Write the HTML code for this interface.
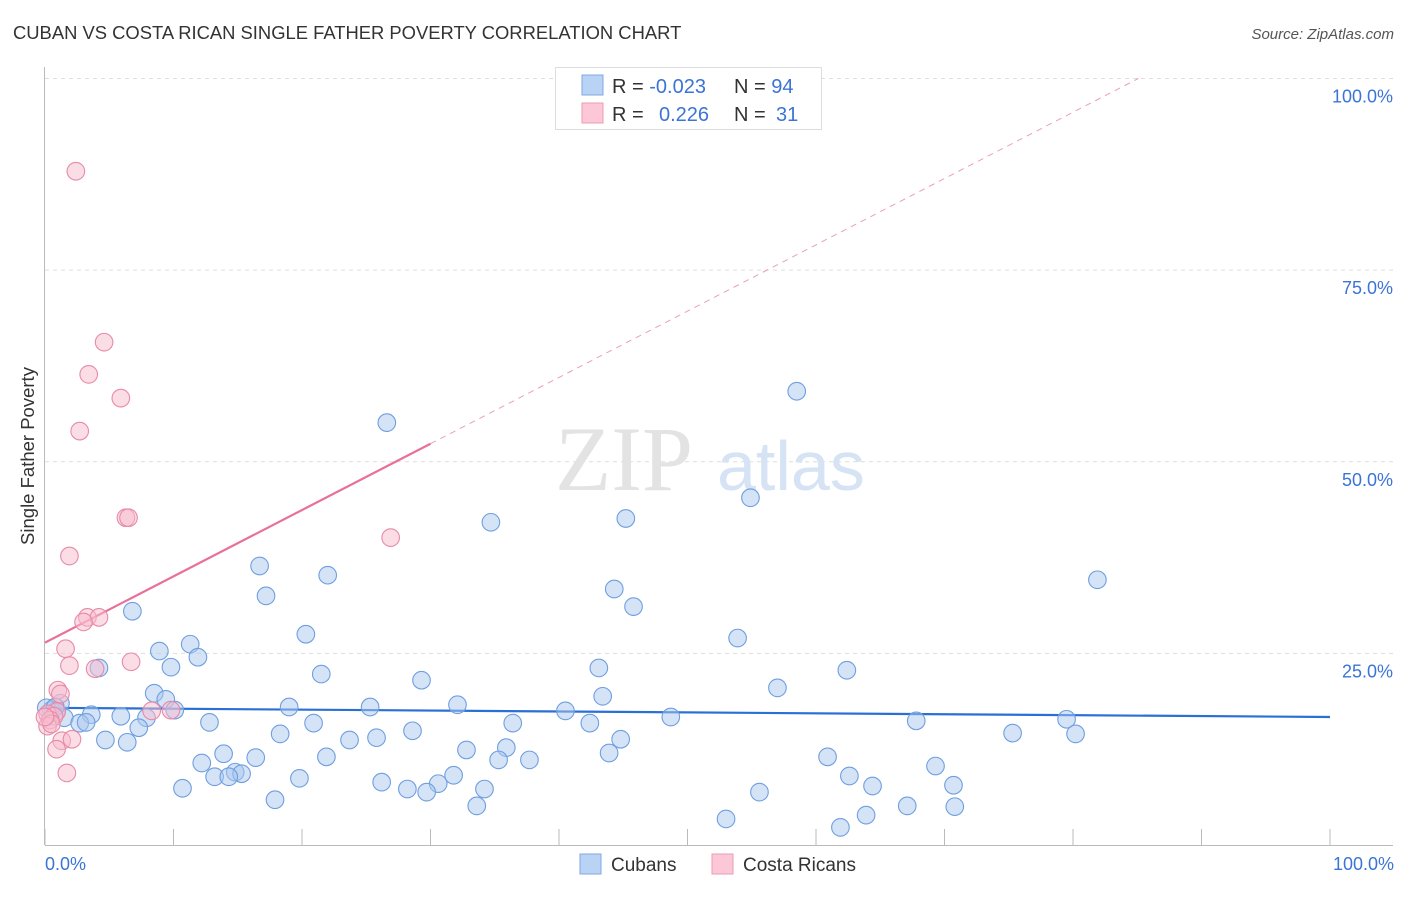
<!DOCTYPE html>
<html><head><meta charset="utf-8"><style>
body{margin:0;background:#fff;font-family:"Liberation Sans",sans-serif}
svg text{font-family:"Liberation Sans",sans-serif}
</style></head><body>
<svg id="chart" width="1406" height="892" viewBox="0 0 1406 892" xmlns="http://www.w3.org/2000/svg">
<text x="13" y="39" font-size="18.4" fill="#333">CUBAN VS COSTA RICAN SINGLE FATHER POVERTY CORRELATION CHART</text>
<text x="1394" y="39" font-size="15" fill="#555" text-anchor="end" font-style="italic">Source: ZipAtlas.com</text>
<g id="grid"></g>
<text x="555" y="490" font-size="92" fill="#e3e3e3" font-family="Liberation Serif" style="font-family:'Liberation Serif',serif">ZIP</text>
<text x="717" y="490" font-size="70" fill="#d5e3f5">atlas</text>
<g id="axes"></g>
<g id="lines"></g>
<g id="points"></g>
<text transform="translate(34,456) rotate(-90)" font-size="18.5" fill="#333" text-anchor="middle">Single Father Poverty</text>
<text x="45" y="870" font-size="18" fill="#3b74d6">0.0%</text>
<text x="1394" y="870" font-size="18" fill="#3b74d6" text-anchor="end">100.0%</text>
<g>
<rect x="555.5" y="67.5" width="266" height="62" fill="#fff" stroke="#ddd"/>
<rect x="582" y="75" width="21" height="20" fill="#b9d3f5" stroke="#7ea8e6"/>
<rect x="582" y="103" width="21" height="20" fill="#fcc8d7" stroke="#ee9ab5"/>
<text x="612" y="93" font-size="20" fill="#333">R = <tspan fill="#3b74d6">-0.023</tspan><tspan x="734">N = </tspan><tspan fill="#3b74d6">94</tspan></text>
<text x="612" y="121" font-size="20" fill="#333">R = <tspan x="659" fill="#3b74d6">0.226</tspan><tspan x="734">N = </tspan><tspan x="776" fill="#3b74d6">31</tspan></text>
</g>
<g>
<rect x="580" y="854" width="21" height="20" fill="#b9d3f5" stroke="#7ea8e6"/>
<text x="611" y="871" font-size="19" fill="#333">Cubans</text>
<rect x="712" y="854" width="21" height="20" fill="#fcc8d7" stroke="#ee9ab5"/>
<text x="743" y="871" font-size="19" fill="#333">Costa Ricans</text>
</g>
</svg>
<script>
const yTicks=[25,50,75,100];
const yTickLabels=["25.0%","50.0%","75.0%","100.0%"];
const cubanX=[26.6,58.5,34.7,45.2,54.9,16.7,22.0,17.2,44.3,45.8,81.9,6.8,20.3,11.3,8.9,11.9,9.8,4.2,21.5,53.9,43.1,62.4,29.3,57.0,8.5,9.4,43.4,1.2,19.0,32.1,25.3,10.1,40.5,3.6,7.9,5.9,0.5,0.9,1.5,2.7,3.2,12.8,20.9,36.4,42.4,48.7,67.8,79.5,75.3,80.2,7.3,18.3,28.6,4.7,6.4,23.7,25.8,44.8,32.8,35.9,13.9,16.4,21.9,35.3,37.7,43.9,60.9,12.2,14.8,15.3,13.2,14.3,69.3,31.8,19.8,26.2,30.6,62.6,10.7,28.2,34.2,29.7,64.4,70.7,17.9,55.6,33.6,67.1,70.8,63.9,53.0,61.9,0.1,0.8];
const cubanY=[55.1,59.2,42.1,42.6,45.3,36.4,35.2,32.5,33.4,31.1,34.6,30.5,27.5,26.2,25.3,24.5,23.2,23.1,22.3,27.0,23.1,22.8,21.5,20.5,19.8,19.0,19.4,18.5,18.0,18.3,18.0,17.6,17.5,17.0,16.6,16.8,17.6,17.4,16.6,15.9,16.0,16.0,15.9,15.9,15.9,16.7,16.2,16.4,14.6,14.5,15.3,14.5,14.9,13.7,13.4,13.7,14.0,13.8,12.4,12.7,11.9,11.4,11.5,11.1,11.1,12.0,11.5,10.7,9.5,9.3,8.9,8.9,10.3,9.1,8.7,8.2,8.0,9.0,7.4,7.3,7.3,6.9,7.7,7.8,5.9,6.9,5.1,5.1,5.0,3.9,3.4,2.3,17.9,18.0];
const costaX=[2.4,4.6,3.4,5.9,2.7,6.3,6.5,26.9,1.9,3.3,4.2,3.0,1.6,1.9,3.9,6.7,1.0,1.2,9.8,8.3,0.9,0.2,0.7,0.4,0.2,1.3,2.1,0.9,1.7,0.5,0.0];
const costaY=[87.9,65.6,61.4,58.3,54.0,42.7,42.7,40.1,37.7,29.7,29.7,29.1,25.6,23.4,23.0,23.9,20.2,19.7,17.6,17.5,17.4,17.1,16.8,16.3,15.5,13.6,13.8,12.5,9.4,15.8,16.7];
const cubanTrend=[17.9,16.7];
const costaTrend=[26.4,0.865];

const NS="http://www.w3.org/2000/svg";
const X0=45,X1=1330,Y0=845,Y1=78.5;
const sx=v=>X0+(X1-X0)*v/100;
const sy=v=>Y0-(Y0-Y1)*v/100;
function mk(tag,attrs,parent){const e=document.createElementNS(NS,tag);for(const k in attrs)e.setAttribute(k,attrs[k]);parent.appendChild(e);return e;}
const grid=document.getElementById('grid'),axes=document.getElementById('axes'),lines=document.getElementById('lines'),pts=document.getElementById('points');
yTicks.forEach((t,i)=>{
 const l=mk('line',{x1:45,x2:1393,y1:sy(t),y2:sy(t),stroke:'#ddd','stroke-dasharray':'4,4'},grid);
 
 
 const tx=mk('text',{x:1393,y:sy(t)+24,'font-size':18,fill:'#3b74d6','text-anchor':'end'},grid);
 tx.textContent=yTickLabels[i];
 
 
});
const xa=mk('line',{x1:45,x2:1393,y1:845.5,y2:845.5,stroke:'#bbb'},axes);


const ya=mk('line',{x1:44.5,x2:44.5,y1:67,y2:845,stroke:'#bbb'},axes);


for(let i=0;i<=10;i++){
 const t=mk('line',{x1:sx(i*10),x2:sx(i*10),y1:829,y2:845,stroke:'#bbb'},axes);
 
 
}
function drawPts(xs,ys,fill,stroke,name){
 xs.forEach((x,i)=>{
  const c=mk('circle',{cx:sx(x),cy:sy(ys[i]),r:8.8,fill:fill,'fill-opacity':0.5,stroke:stroke,'stroke-width':1.1},pts);
  
  
 });
}
drawPts(cubanX,cubanY,'#a9c8ee','#6f9fe0','cuban-point');
drawPts(costaX,costaY,'#f7bccd','#e88aa8','costa-rican-point');
const bl=mk('line',{x1:sx(0),y1:sy(cubanTrend[0]),x2:sx(100),y2:sy(cubanTrend[1]),stroke:'#2a6fd6','stroke-width':2.2},lines);


const xEnd=(100-costaTrend[0])/costaTrend[1];
const pd=mk('line',{x1:sx(30),y1:sy(costaTrend[0]+30*costaTrend[1]),x2:sx(xEnd),y2:sy(100),stroke:'#e8a0b8','stroke-width':1,'stroke-dasharray':'6,5'},lines);


const pl=mk('line',{x1:sx(0),y1:sy(costaTrend[0]),x2:sx(30),y2:sy(costaTrend[0]+30*costaTrend[1]),stroke:'#e8709a','stroke-width':2.2},lines);


</script>
</body></html>
